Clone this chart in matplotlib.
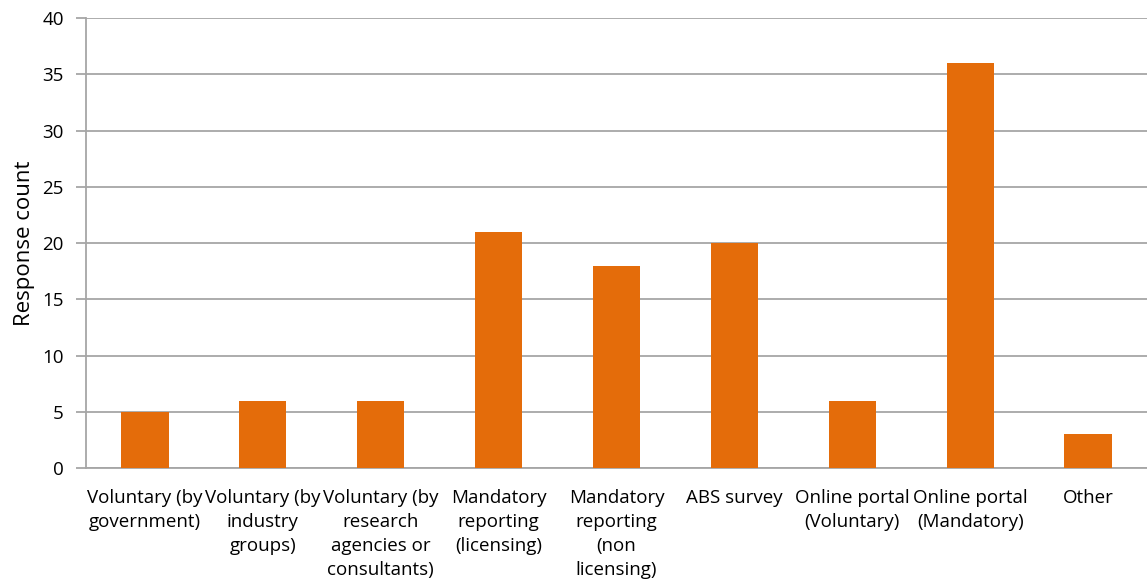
import matplotlib
matplotlib.use("Agg")
import matplotlib.pyplot as plt

categories = [
    "Voluntary (by\ngovernment)",
    "Voluntary (by\nindustry\ngroups)",
    "Voluntary (by\nresearch\nagencies or\nconsultants)",
    "Mandatory\nreporting\n(licensing)",
    "Mandatory\nreporting\n(non\nlicensing)",
    "ABS survey",
    "Online portal\n(Voluntary)",
    "Online portal\n(Mandatory)",
    "Other",
]
counts = [5, 6, 6, 21, 18, 20, 6, 36, 3]
y_ticks = [0, 5, 10, 15, 20, 25, 30, 35, 40]

plt.rcParams['font.family'] = ['Open Sans', 'DejaVu Sans']

fig = plt.figure(figsize=(11.47, 5.88), dpi=100)
ax = fig.add_axes([0.075, 0.204, 0.925, 0.765])

grid_col = "#A6A6A6"
x = range(len(categories))
ax.bar(x, counts, width=0.4, color="#E46C0A", zorder=3)

ax.set_xlim(-0.5, len(categories) - 0.5)
ax.set_ylim(0, 40)
ax.set_yticks(y_ticks)
ax.set_xticks(list(x))
ax.set_xticklabels(categories, fontsize=13.5, linespacing=1.42, va="top")
ax.tick_params(axis="x", length=0, pad=15)
ax.tick_params(axis="y", length=7, color=grid_col, width=1.3, labelsize=13.5, pad=9)
ax.yaxis.grid(True, color=grid_col, linewidth=1.3, zorder=0)
ax.set_axisbelow(True)

for side in ["top", "right"]:
    ax.spines[side].set_visible(False)
for side in ["left", "bottom"]:
    ax.spines[side].set_color(grid_col)
    ax.spines[side].set_linewidth(1.3)

ax.set_ylabel("Response count", fontsize=16, labelpad=5)

fig.savefig("out.png", dpi=100)
